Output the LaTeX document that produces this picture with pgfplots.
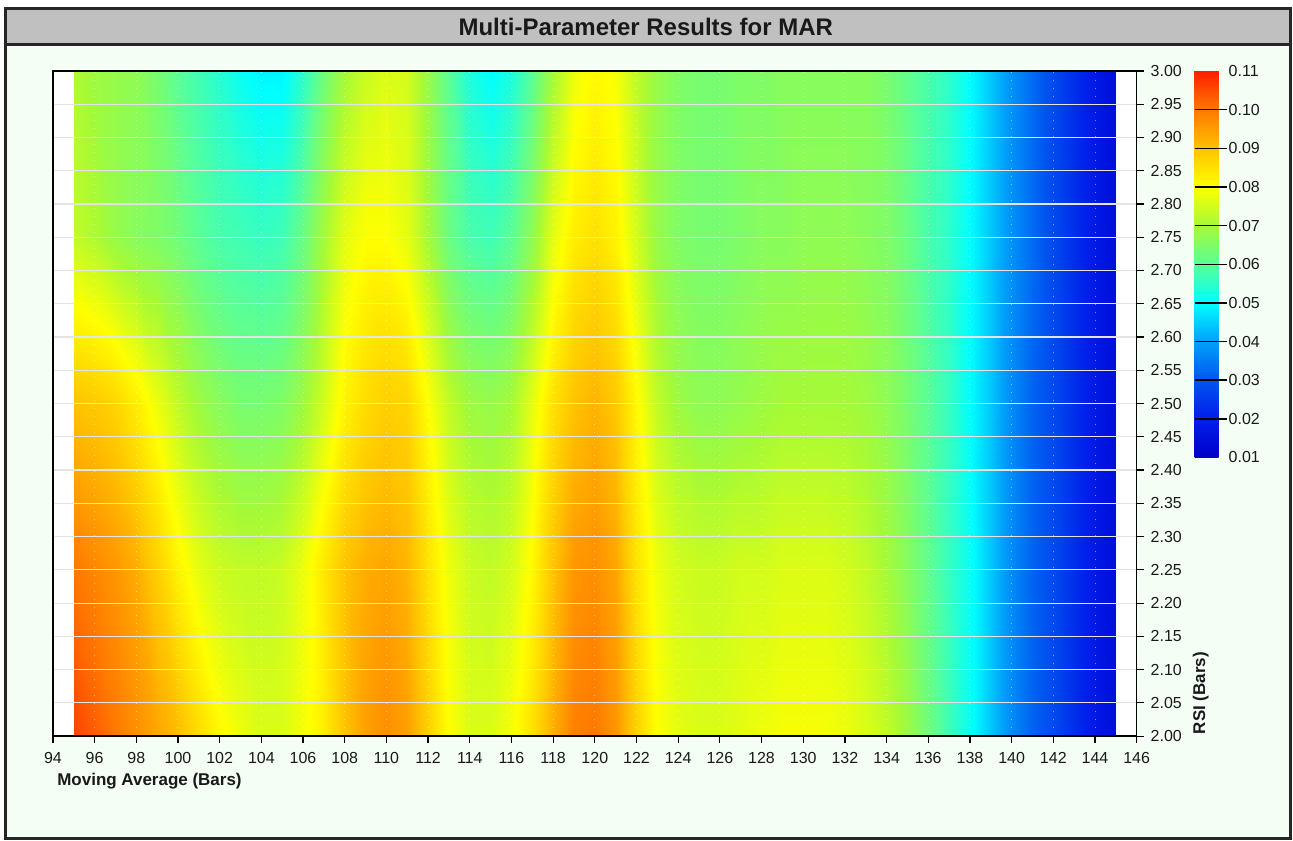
\documentclass[border=0pt]{standalone}
\usepackage{pgfplots}
\pgfplotsset{compat=1.18}
\usepackage{fontspec}
\setmainfont{Liberation Sans}
\definecolor{framedark}{RGB}{38,38,38}
\definecolor{barbg}{RGB}{192,192,192}
\definecolor{panelbg}{RGB}{244,254,244}
\definecolor{gridgray}{RGB}{228,228,228}
\definecolor{ticktext}{RGB}{25,25,25}
\begin{document}
\begin{tikzpicture}
% background panel, 1px = 0.5pt, origin at the top-left corner
\begin{scope}[x=0.5pt,y=-0.5pt]
\useasboundingbox (0,0) rectangle (1293,841);
\fill[white] (0,0) rectangle (1293,841);
\fill[panelbg] (4,7) rectangle (1293,841);
\fill[barbg] (4,7) rectangle (1293,45);
\end{scope}
\begin{axis}[
  at={(26.5pt,-368.5pt)}, anchor=south west,
  scale only axis, width=542.5pt, height=333pt,
  xmin=94, xmax=146, ymin=2, ymax=3,
  axis background/.style={fill=white},
  axis on top,
  axis line style={black, line width=0.7pt},
  xtick={94,96,...,146},
  ytick={2.00,2.05,2.10,2.15,2.20,2.25,2.30,2.35,2.40,2.45,2.50,2.55,2.60,2.65,2.70,2.75,2.80,2.85,2.90,2.95,3.00},
  xtick pos=left, ytick pos=right, yticklabel pos=right,
  tick align=outside, major tick length=3.5pt,
  tick style={black, line width=0.6pt},
  /pgf/number format/assume math mode=true,
  ticklabel style={font=\fontsize{8}{9}\selectfont, text=ticktext},
  yticklabel style={/pgf/number format/.cd, fixed, fixed zerofill, precision=2},
  xticklabel style={yshift=-1pt, /pgf/number format/.cd, fixed, precision=0, 1000 sep={}},
  ymajorgrids, xmajorgrids,
  major y grid style={gridgray, line width=0.6pt},
  major x grid style={white, line width=0.5pt, opacity=0.5, dash pattern=on 0.5pt off 3.5pt},
  colormap={mar}{rgb255=(0,0,200) rgb255=(0,30,235) rgb255=(0,85,240) rgb255=(0,160,250)
    rgb255=(0,255,255) rgb255=(90,255,150) rgb255=(165,250,55) rgb255=(255,255,0)
    rgb255=(255,195,0) rgb255=(255,120,0) rgb255=(255,30,0)},
  point meta min=0.01, point meta max=0.11,
  colorbar,
  colorbar style={
    at={(parent axis.north east)}, anchor=north west, xshift=20.5pt,
    scale only axis, width=12pt, height=193.5pt,
    axis line style={draw=none},
    ytick={0.01,0.02,0.03,0.04,0.05,0.06,0.07,0.08,0.09,0.10,0.11},
    ytick pos=right, yticklabel pos=right,
    major tick length=0pt,
    /pgf/number format/assume math mode=true,
    yticklabel style={font=\fontsize{8}{9}\selectfont, text=ticktext, xshift=1.5pt,
      /pgf/number format/.cd, fixed, fixed zerofill, precision=2},
    % separator lines across the bar at 0.02, 0.03, ..., 0.10
    after end axis/.code={
      \foreach \r in {0.1,0.2,0.3,0.4,0.5,0.6,0.7,0.8,0.9}
        \draw[black, line width=0.7pt] (axis description cs:0,\r) -- ([xshift=4pt]axis description cs:1,\r);
    },
  },
]
% profit factor over the parameter grid: Moving Average 95..145, RSI 2.00..3.00
\addplot[surf, shader=interp, mesh/cols=51, point meta=explicit] coordinates {
(95,2.00)[0.106] (96,2.00)[0.103] (97,2.00)[0.100] (98,2.00)[0.097] (99,2.00)[0.094] (100,2.00)[0.091] (101,2.00)[0.086] (102,2.00)[0.081] (103,2.00)[0.078] (104,2.00)[0.076]
(105,2.00)[0.076] (106,2.00)[0.079] (107,2.00)[0.083] (108,2.00)[0.090] (109,2.00)[0.095] (110,2.00)[0.097] (111,2.00)[0.095] (112,2.00)[0.088] (113,2.00)[0.080] (114,2.00)[0.076]
(115,2.00)[0.076] (116,2.00)[0.079] (117,2.00)[0.085] (118,2.00)[0.093] (119,2.00)[0.099] (120,2.00)[0.100] (121,2.00)[0.096] (122,2.00)[0.088] (123,2.00)[0.080] (124,2.00)[0.077]
(125,2.00)[0.076] (126,2.00)[0.076] (127,2.00)[0.077] (128,2.00)[0.078] (129,2.00)[0.079] (130,2.00)[0.079] (131,2.00)[0.079] (132,2.00)[0.078] (133,2.00)[0.076] (134,2.00)[0.073]
(135,2.00)[0.069] (136,2.00)[0.063] (137,2.00)[0.057] (138,2.00)[0.051] (139,2.00)[0.044] (140,2.00)[0.037] (141,2.00)[0.032] (142,2.00)[0.028] (143,2.00)[0.023] (144,2.00)[0.018] (145,2.00)[0.015]

(95,2.25)[0.100] (96,2.25)[0.098] (97,2.25)[0.096] (98,2.25)[0.093] (99,2.25)[0.088] (100,2.25)[0.082] (101,2.25)[0.077] (102,2.25)[0.074] (103,2.25)[0.073] (104,2.25)[0.073]
(105,2.25)[0.074] (106,2.25)[0.078] (107,2.25)[0.084] (108,2.25)[0.090] (109,2.25)[0.093] (110,2.25)[0.094] (111,2.25)[0.092] (112,2.25)[0.085] (113,2.25)[0.078] (114,2.25)[0.074]
(115,2.25)[0.073] (116,2.25)[0.075] (117,2.25)[0.081] (118,2.25)[0.090] (119,2.25)[0.096] (120,2.25)[0.097] (121,2.25)[0.094] (122,2.25)[0.085] (123,2.25)[0.078] (124,2.25)[0.075]
(125,2.25)[0.074] (126,2.25)[0.074] (127,2.25)[0.075] (128,2.25)[0.075] (129,2.25)[0.076] (130,2.25)[0.076] (131,2.25)[0.076] (132,2.25)[0.075] (133,2.25)[0.073] (134,2.25)[0.070]
(135,2.25)[0.066] (136,2.25)[0.061] (137,2.25)[0.056] (138,2.25)[0.051] (139,2.25)[0.044] (140,2.25)[0.037] (141,2.25)[0.032] (142,2.25)[0.028] (143,2.25)[0.023] (144,2.25)[0.018] (145,2.25)[0.015]

(95,2.50)[0.090] (96,2.50)[0.089] (97,2.50)[0.087] (98,2.50)[0.083] (99,2.50)[0.078] (100,2.50)[0.073] (101,2.50)[0.069] (102,2.50)[0.066] (103,2.50)[0.064] (104,2.50)[0.064]
(105,2.50)[0.065] (106,2.50)[0.069] (107,2.50)[0.075] (108,2.50)[0.082] (109,2.50)[0.086] (110,2.50)[0.088] (111,2.50)[0.087] (112,2.50)[0.080] (113,2.50)[0.073] (114,2.50)[0.069]
(115,2.50)[0.068] (116,2.50)[0.070] (117,2.50)[0.077] (118,2.50)[0.085] (119,2.50)[0.090] (120,2.50)[0.092] (121,2.50)[0.089] (122,2.50)[0.081] (123,2.50)[0.073] (124,2.50)[0.069]
(125,2.50)[0.067] (126,2.50)[0.067] (127,2.50)[0.068] (128,2.50)[0.069] (129,2.50)[0.070] (130,2.50)[0.070] (131,2.50)[0.070] (132,2.50)[0.070] (133,2.50)[0.069] (134,2.50)[0.067]
(135,2.50)[0.064] (136,2.50)[0.060] (137,2.50)[0.056] (138,2.50)[0.050] (139,2.50)[0.044] (140,2.50)[0.037] (141,2.50)[0.032] (142,2.50)[0.028] (143,2.50)[0.023] (144,2.50)[0.018] (145,2.50)[0.015]

(95,2.75)[0.073] (96,2.75)[0.071] (97,2.75)[0.068] (98,2.75)[0.066] (99,2.75)[0.065] (100,2.75)[0.063] (101,2.75)[0.060] (102,2.75)[0.058] (103,2.75)[0.057] (104,2.75)[0.056]
(105,2.75)[0.057] (106,2.75)[0.062] (107,2.75)[0.070] (108,2.75)[0.077] (109,2.75)[0.080] (110,2.75)[0.080] (111,2.75)[0.077] (112,2.75)[0.070] (113,2.75)[0.062] (114,2.75)[0.058]
(115,2.75)[0.057] (116,2.75)[0.060] (117,2.75)[0.067] (118,2.75)[0.077] (119,2.75)[0.083] (120,2.75)[0.085] (121,2.75)[0.082] (122,2.75)[0.075] (123,2.75)[0.068] (124,2.75)[0.065]
(125,2.75)[0.064] (126,2.75)[0.064] (127,2.75)[0.065] (128,2.75)[0.066] (129,2.75)[0.066] (130,2.75)[0.067] (131,2.75)[0.067] (132,2.75)[0.067] (133,2.75)[0.066] (134,2.75)[0.065]
(135,2.75)[0.062] (136,2.75)[0.058] (137,2.75)[0.055] (138,2.75)[0.050] (139,2.75)[0.044] (140,2.75)[0.038] (141,2.75)[0.033] (142,2.75)[0.028] (143,2.75)[0.023] (144,2.75)[0.018] (145,2.75)[0.015]

(95,3.00)[0.071] (96,3.00)[0.069] (97,3.00)[0.068] (98,3.00)[0.067] (99,3.00)[0.064] (100,3.00)[0.060] (101,3.00)[0.057] (102,3.00)[0.054] (103,3.00)[0.051] (104,3.00)[0.049]
(105,3.00)[0.049] (106,3.00)[0.055] (107,3.00)[0.063] (108,3.00)[0.070] (109,3.00)[0.074] (110,3.00)[0.076] (111,3.00)[0.075] (112,3.00)[0.068] (113,3.00)[0.060] (114,3.00)[0.053]
(115,3.00)[0.050] (116,3.00)[0.053] (117,3.00)[0.060] (118,3.00)[0.070] (119,3.00)[0.078] (120,3.00)[0.081] (121,3.00)[0.079] (122,3.00)[0.073] (123,3.00)[0.068] (124,3.00)[0.065]
(125,3.00)[0.064] (126,3.00)[0.064] (127,3.00)[0.065] (128,3.00)[0.065] (129,3.00)[0.066] (130,3.00)[0.066] (131,3.00)[0.066] (132,3.00)[0.066] (133,3.00)[0.066] (134,3.00)[0.064]
(135,3.00)[0.061] (136,3.00)[0.058] (137,3.00)[0.055] (138,3.00)[0.050] (139,3.00)[0.044] (140,3.00)[0.038] (141,3.00)[0.033] (142,3.00)[0.028] (143,3.00)[0.023] (144,3.00)[0.018] (145,3.00)[0.015]
};
\end{axis}
% window frame, title bar and axis titles
\begin{scope}[x=0.5pt,y=-0.5pt]
\draw[framedark, line width=1.5pt] (5.5,8.5) rectangle (1291.5,839.5);
\draw[framedark, line width=1.5pt] (4,44.5) -- (1293,44.5);
\node[text=black!90, font=\bfseries\fontsize{12}{14}\selectfont] at (646.5,27) {Multi-Parameter Results for MAR};
\node[anchor=west, inner sep=0pt, text=black!90, font=\bfseries\fontsize{8.5}{10}\selectfont] at (57,782) {Moving Average (Bars)};
\node[rotate=90, inner sep=0pt, text=black!90, font=\bfseries\fontsize{8.5}{10}\selectfont] at (1202,694) {RSI (Bars)};
\end{scope}
\end{tikzpicture}
\end{document}
